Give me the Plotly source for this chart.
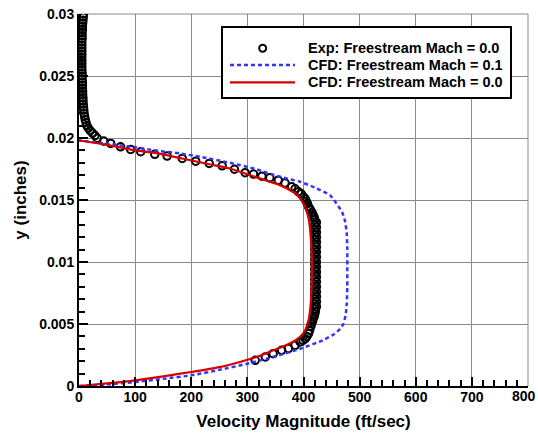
import plotly.graph_objects as go

# ---------------- data ----------------
# Experimental data, Freestream Mach = 0.0 (velocity ft/sec, y inches), in four segments
wall_vel = [8, 7.5, 7, 6.5, 6, 6, 5.5, 5.5, 5.5, 5, 5, 5, 5, 5, 5, 5, 5, 5, 5, 5.5,
            5.5, 5.5, 6, 6, 6, 6.5, 6.5, 7, 7, 7.5, 8, 8.5, 9, 10, 11, 12.5, 14, 16.5,
            20, 24, 28.5]
wall_y = [0.03, 0.02975, 0.0295, 0.02925, 0.029, 0.02875, 0.0285, 0.02825, 0.028,
          0.02775, 0.0275, 0.02725, 0.027, 0.02675, 0.0265, 0.02625, 0.026, 0.02575,
          0.0255, 0.02525, 0.025, 0.02475, 0.0245, 0.02425, 0.024, 0.02375, 0.0235,
          0.02325, 0.023, 0.02275, 0.0225, 0.02225, 0.022, 0.02175, 0.0215, 0.02125,
          0.021, 0.0208, 0.0206, 0.0204, 0.0202]

upper_vel = [32.6, 44, 56.5, 74, 92, 110, 135, 157, 184, 208, 232, 255, 277, 296, 311,
             326, 340, 355, 367, 379, 385, 391, 396, 400, 403, 405, 407, 409, 411]
upper_y = [0.01997, 0.01975, 0.01956, 0.01929, 0.01908, 0.01889, 0.01868, 0.01854,
           0.01835, 0.01813, 0.01795, 0.01776, 0.01748, 0.0172, 0.01709, 0.01692,
           0.01679, 0.0166, 0.01638, 0.01606, 0.0159, 0.01566, 0.0155, 0.01525, 0.0151,
           0.0149, 0.0147, 0.01445, 0.0143]

mid_vel = [412, 415, 417, 419, 420,
           423, 420, 423, 420, 423, 420, 423, 420, 423, 420, 423, 420,
           423, 420, 423, 420, 423, 420, 423, 420, 423, 420, 423, 420,
           423, 420, 423, 420, 423, 420, 423, 420, 423, 420, 423, 420,
           421, 420, 419, 417, 416, 414]
mid_y = [0.0142, 0.0140, 0.0138, 0.0136, 0.0134,
         0.0132, 0.0130, 0.0128, 0.0126, 0.0124, 0.0122, 0.0120, 0.0118, 0.0116, 0.0114,
         0.0112, 0.0110, 0.0108, 0.0106, 0.0104, 0.0102, 0.0100, 0.0098, 0.0096, 0.0094,
         0.0092, 0.0090, 0.0088, 0.0086, 0.0084, 0.0082, 0.0080, 0.0078, 0.0076, 0.0074,
         0.0072, 0.0070, 0.0068, 0.0066, 0.0064, 0.0062,
         0.0060, 0.0058, 0.0056, 0.0054, 0.0052, 0.0050]

lower_vel = [413, 411, 409, 406, 403, 399, 394, 385, 373, 361, 346, 332, 314]
lower_y = [0.0048, 0.0045, 0.00423, 0.0040, 0.00382, 0.00368, 0.00355, 0.00328,
           0.00302, 0.00288, 0.00261, 0.00234, 0.00207]

for a, b in [(wall_vel, wall_y), (upper_vel, upper_y), (mid_vel, mid_y), (lower_vel, lower_y)]:
    assert len(a) == len(b), (len(a), len(b))

exp_vel = wall_vel + upper_vel + mid_vel + lower_vel
exp_y = wall_y + upper_y + mid_y + lower_y

# CFD, Freestream Mach = 0.1
cfd01_vel = [0, 50, 100, 150, 200, 250, 300, 350, 394, 435, 455, 465, 471, 475, 477,
             478, 478, 478, 477, 474, 469, 462, 447, 420, 394, 358, 314, 269, 216,
             180, 135, 100, 50, 0]
cfd01_y = [0, 0.00012, 0.00032, 0.00058, 0.00086, 0.0013, 0.0018, 0.0024, 0.0030,
           0.0037, 0.0042, 0.0046, 0.0050, 0.0057, 0.0066, 0.0080, 0.0096, 0.0110,
           0.0123, 0.0133, 0.0140, 0.0145, 0.01539, 0.0160, 0.01647, 0.01687, 0.0175,
           0.0180, 0.01848, 0.01875, 0.0190, 0.01925, 0.01955, 0.0198]
assert len(cfd01_vel) == len(cfd01_y)

# CFD, Freestream Mach = 0.0
cfd00_vel = [0, 50, 100, 150, 200, 250, 287, 320, 346, 370, 394, 403, 409, 412, 414,
             415, 415, 414, 412, 410, 407, 403, 396, 387, 376, 358, 340, 305, 269,
             230, 184, 135, 100, 50, 0]
cfd00_y = [0, 0.00021, 0.00046, 0.00078, 0.00113, 0.00152, 0.00194, 0.0024, 0.00288,
           0.0033, 0.00396, 0.0045, 0.0053, 0.0062, 0.0075, 0.0088, 0.0100, 0.0112,
           0.0125, 0.0133, 0.0139, 0.01445, 0.0150, 0.0155, 0.0158, 0.0162, 0.01647,
           0.0170, 0.01754, 0.0179, 0.01835, 0.0188, 0.0190, 0.01945, 0.0198]
assert len(cfd00_vel) == len(cfd00_y)

names = ["Exp: Freestream Mach = 0.0",
         "CFD: Freestream Mach = 0.1",
         "CFD: Freestream Mach = 0.0"]

x_tickvals = [0, 100, 200, 300, 400, 500, 600, 700, 800]
x_ticklabels = ["0", "100", "200", "300", "400", "500", "600", "700", "800"]

x_title = "Velocity Magnitude (ft/sec)"
y_title = "y (inches)"

# ---------------- style ----------------
FONT = "Liberation Sans, Arial, Helvetica, sans-serif"
W, H = 538, 437
ML, MR, MT, MB = 79, 10, 14, 51
PW, PH = W - ML - MR, H - MT - MB

EXP_COLOR = "black"
BLUE = "#3333ff"
RED = "#d40000"
GRID = "#8a8a8a"
TICKFONT = dict(family=FONT, size=14, color="black", weight="bold")


def px(xp):
    return (xp - ML) / PW


def py(yp):
    return (H - MB - yp) / PH


fig = go.Figure()
fig.add_trace(go.Scatter(
    x=exp_vel, y=exp_y, mode="markers", name=names[0], showlegend=False,
    marker=dict(symbol="circle-open", size=7.5, color=EXP_COLOR,
                line=dict(width=2, color=EXP_COLOR)),
))
fig.add_trace(go.Scatter(
    x=cfd01_vel, y=cfd01_y, mode="lines", name=names[1], showlegend=False,
    line=dict(color=BLUE, width=2.5, dash="4px,3px", shape="spline", smoothing=0.6),
))
fig.add_trace(go.Scatter(
    x=cfd00_vel, y=cfd00_y, mode="lines", name=names[2], showlegend=False,
    line=dict(color=RED, width=2.2, shape="spline", smoothing=0.6),
))

axis_common = dict(
    showgrid=True, gridcolor=GRID, gridwidth=1,
    showline=True, linecolor="black", linewidth=2,
    ticks="inside", ticklen=9, tickwidth=2, tickcolor="black",
    zeroline=False, automargin=False,
    tickfont=TICKFONT,
)

shapes = [
    # grid lines on the top and right edges of the plot area
    dict(type="line", xref="paper", yref="paper", x0=0, x1=1, y0=1, y1=1,
         line=dict(color=GRID, width=1), layer="below"),
    dict(type="line", xref="paper", yref="paper", x0=1, x1=1, y0=0, y1=1,
         line=dict(color=GRID, width=1), layer="below"),
    # legend box
    dict(type="rect", xref="paper", yref="paper",
         x0=px(222), x1=px(511), y0=py(98), y1=py(27),
         fillcolor="white", line=dict(color="black", width=2), layer="above"),
    # legend samples
    dict(type="circle", xref="paper", yref="paper",
         x0=px(262.7 - 3.5), x1=px(262.7 + 3.5), y0=py(48.3 + 3.5), y1=py(48.3 - 3.5),
         line=dict(color=EXP_COLOR, width=2), layer="above"),
    dict(type="line", xref="paper", yref="paper",
         x0=px(230), x1=px(295), y0=py(65), y1=py(65),
         line=dict(color=BLUE, width=2.5, dash="4px,3px"), layer="above"),
    dict(type="line", xref="paper", yref="paper",
         x0=px(230), x1=px(295), y0=py(82.3), y1=py(82.3),
         line=dict(color=RED, width=2.2), layer="above"),
]

annotations = [
    dict(text=names[i], xref="paper", yref="paper", x=px(306), y=py(yy),
         xanchor="left", yanchor="middle", showarrow=False,
         font=dict(family=FONT, size=14.5, color="black", weight="bold"))
    for i, yy in enumerate([48.3, 65, 82.3])
]
# last x tick label sits flush against the right edge of the figure
annotations.append(dict(
    text=x_ticklabels[-1], xref="paper", yref="paper", x=px(W - 0.5), y=py(396),
    xanchor="right", yanchor="middle", showarrow=False, font=TICKFONT,
))

fig.update_layout(
    width=W, height=H,
    margin=dict(l=ML, r=MR, t=MT, b=MB),
    paper_bgcolor="white", plot_bgcolor="white",
    font=dict(family=FONT, color="black"),
    showlegend=False,
    shapes=shapes,
    annotations=annotations,
    xaxis=dict(
        range=[0, 800],
        tickmode="array", tickvals=x_tickvals,
        ticktext=x_ticklabels[:-1] + [""],
        ticklabelstandoff=-3,
        minor=dict(ticks="inside", ticklen=6, tickwidth=1.5, dtick=20, tick0=0,
                   tickcolor="black", showgrid=False),
        title=dict(text=x_title, standoff=11,
                   font=dict(family=FONT, size=17, color="black", weight="bold")),
        **axis_common,
    ),
    yaxis=dict(
        range=[0, 0.03], dtick=0.005, tick0=0,
        minor=dict(ticks="inside", ticklen=6, tickwidth=1.5, dtick=0.001,
                   tickcolor="black", showgrid=False),
        title=dict(text=y_title, standoff=8,
                   font=dict(family=FONT, size=17, color="black", weight="bold")),
        **axis_common,
    ),
)

fig.write_html("out.html")
